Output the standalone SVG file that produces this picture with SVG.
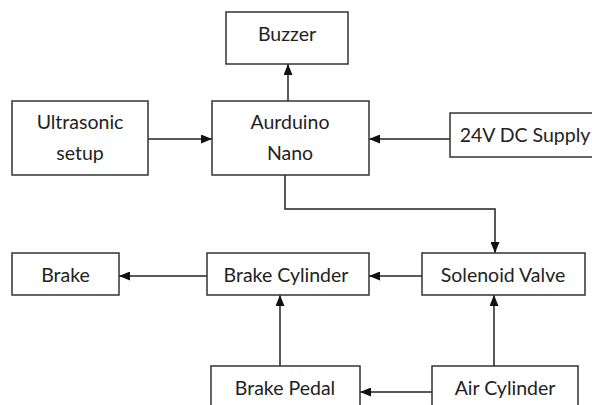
<svg xmlns="http://www.w3.org/2000/svg" width="592" height="405" viewBox="0 0 592 405">
<style>
.box{fill:#fff;stroke:#333;stroke-width:1.5}
.t{font-family:Lato,"Liberation Sans",sans-serif;font-size:19.5px;fill:#222;text-anchor:middle}
.c{fill:none;stroke:#222;stroke-width:1.5}
</style>
<defs>
<marker id="ah" markerWidth="11" markerHeight="9" refX="11" refY="4.5" orient="auto" markerUnits="userSpaceOnUse">
<path d="M0,0 L11,4.5 L0,9 Z" fill="#111"/>
</marker>
</defs>
<rect width="592" height="405" fill="#fff"/>
<g id="connectors">
<path class="c" d="M288,101 V64" marker-end="url(#ah)"/>
<path class="c" d="M148,139 H212" marker-end="url(#ah)"/>
<path class="c" d="M450,139 H369" marker-end="url(#ah)"/>
<path class="c" d="M285,175 V209 H495 V253" marker-end="url(#ah)"/>
<path class="c" d="M422,276 H369" marker-end="url(#ah)"/>
<path class="c" d="M207,276 H119" marker-end="url(#ah)"/>
<path class="c" d="M280,366 V295" marker-end="url(#ah)"/>
<path class="c" d="M432,392 H360" marker-end="url(#ah)"/>
<path class="c" d="M494,366 V295" marker-end="url(#ah)"/>
</g>
<g id="buzzer"><rect class="box" x="226" y="12" width="122" height="52"/><text class="t" x="287" y="41">Buzzer</text></g>
<g id="ultrasonic"><rect class="box" x="12" y="101" width="136" height="74"/><text class="t" x="80" y="129">Ultrasonic</text><text class="t" x="80" y="160">setup</text></g>
<g id="arduino"><rect class="box" x="212" y="101" width="157" height="74"/><text class="t" x="290" y="129">Aurduino</text><text class="t" x="290" y="160">Nano</text></g>
<g id="supply"><rect class="box" x="450" y="113" width="145" height="44"/><text class="t" x="525" y="142">24V DC Supply</text></g>
<g id="brake"><rect class="box" x="12" y="253" width="107" height="42"/><text class="t" x="65.5" y="282">Brake</text></g>
<g id="brakecyl"><rect class="box" x="207" y="253" width="162" height="42"/><text class="t" x="286" y="282">Brake Cylinder</text></g>
<g id="solenoid"><rect class="box" x="422" y="253" width="163" height="42"/><text class="t" x="503" y="282">Solenoid Valve</text></g>
<g id="pedal"><rect class="box" x="211" y="366" width="149" height="50"/><text class="t" x="285" y="395">Brake Pedal</text></g>
<g id="aircyl"><rect class="box" x="432" y="366" width="146" height="50"/><text class="t" x="505" y="395">Air Cylinder</text></g>
</svg>
